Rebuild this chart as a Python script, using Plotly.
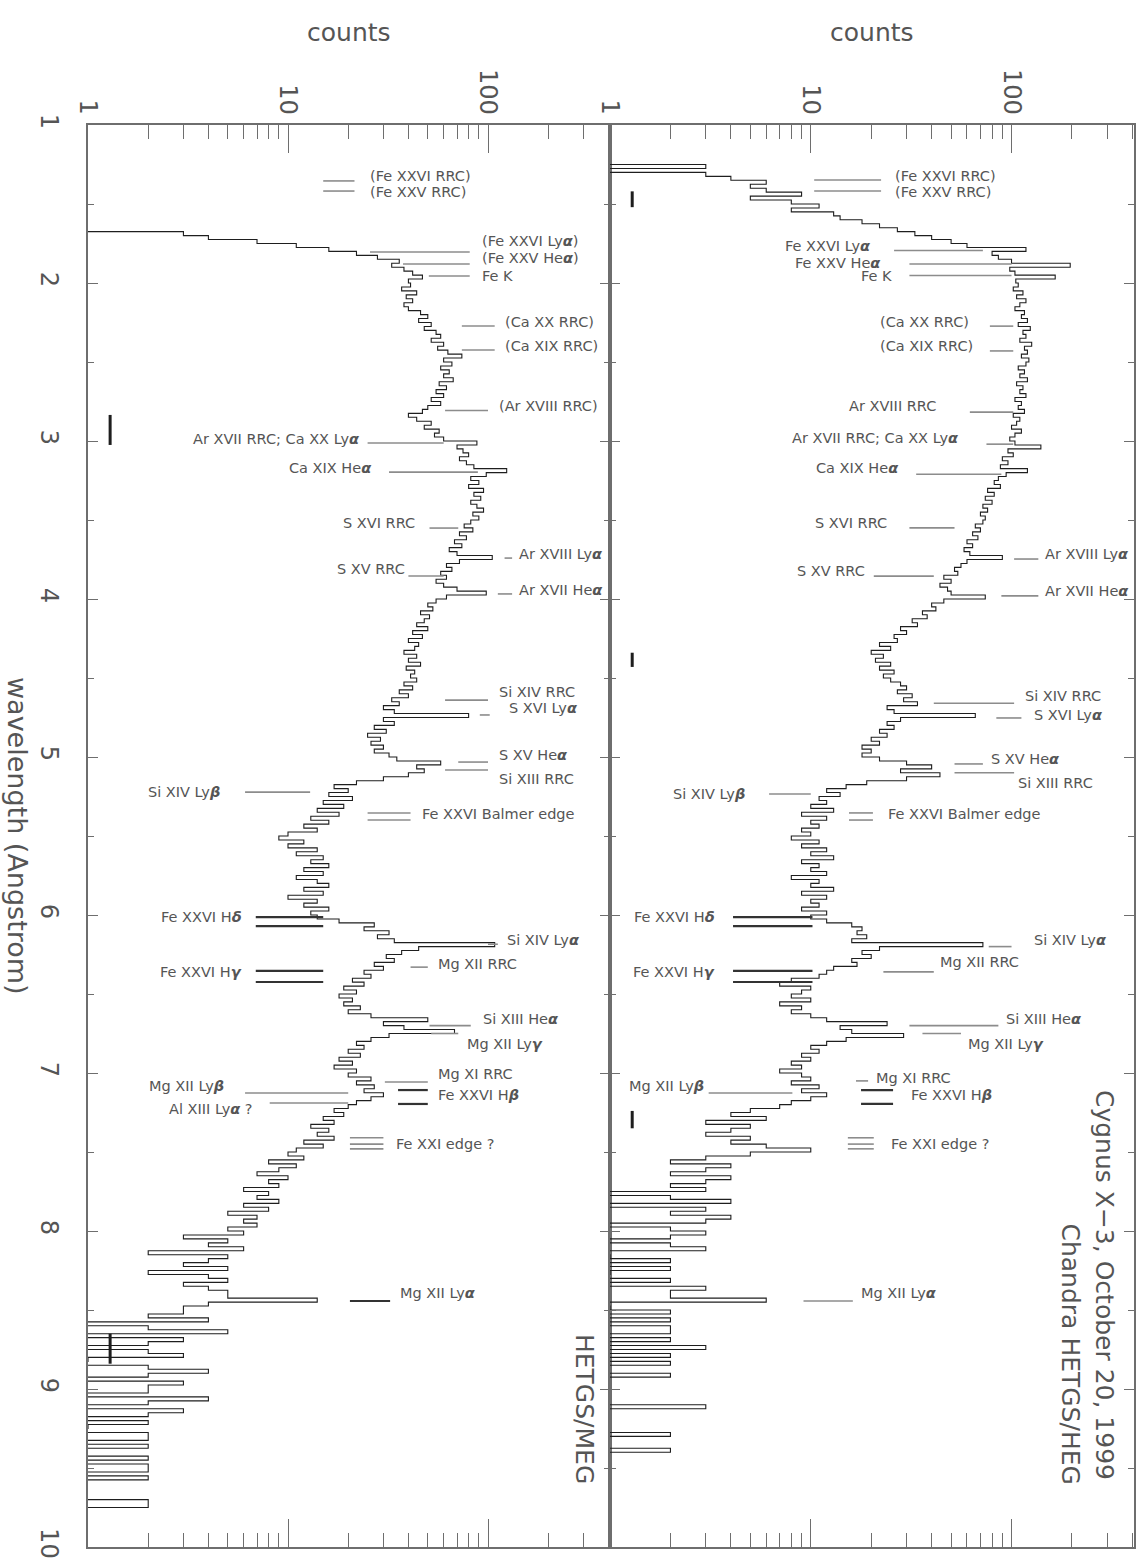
import numpy as np
import plotly.graph_objects as go

W, H = 1142, 1565
FONT = "DejaVu Sans"
TXT = "#555555"
AX = "#6e6e6e"

# ---------------- data ----------------
bin_start = 1.0      # Angstrom
bin_width = 0.025    # Angstrom

# HETGS/MEG counts per bin (rows of 0.5 Angstrom)
meg_counts = [
    0, 0, 0, 0, 0, 0, 0, 0, 0, 0, 0, 0, 0, 0, 0, 0, 0, 0, 0, 0,
    0, 0, 0, 0, 0, 0, 0, 3, 4, 7, 11, 16, 22, 28, 36, 33, 38, 42, 47, 40,
    41, 37, 44, 39, 42, 38, 40, 46, 50, 45, 52, 48, 55, 58, 52, 60, 56, 63, 74, 60,
    66, 58, 64, 60, 67, 57, 62, 55, 60, 52, 58, 50, 47, 40, 44, 52, 48, 57, 54, 60,
    88, 70, 75, 80, 72, 78, 85, 124, 98, 82, 90, 80, 95, 85, 92, 82, 88, 95, 84, 90,
    82, 76, 84, 72, 78, 68, 74, 64, 70, 105, 72, 62, 66, 58, 62, 55, 60, 70, 98, 62,
    55, 50, 53, 46, 51, 48, 44, 50, 42, 47, 40, 45, 43, 38, 44, 40, 46, 39, 43, 41,
    44, 38, 42, 36, 40, 33, 36, 30, 34, 80, 30, 34, 27, 31, 25, 29, 26, 30, 27, 32,
    35, 58, 44, 48, 40, 30, 22, 17, 20, 16, 21, 15, 19, 14, 18, 13, 16, 12, 14, 10,
    9, 12, 10, 14, 11, 15, 13, 16, 12, 15, 11, 14, 16, 12, 15, 10, 14, 12, 16, 13,
    14, 18, 27, 24, 32, 28, 34, 108, 45, 37, 31, 34, 27, 30, 24, 26, 21, 24, 19, 22,
    18, 21, 19, 23, 20, 26, 50, 30, 38, 68, 32, 26, 22, 24, 20, 23, 18, 21, 17, 22,
    20, 26, 22, 27, 24, 30, 26, 22, 20, 17, 19, 15, 17, 13, 16, 14, 17, 12, 15, 11,
    10, 12, 8, 11, 9, 7, 10, 8, 9, 6, 8, 7, 9, 6, 8, 5, 7, 6, 7, 5,
    6, 3, 5, 4, 6, 2, 5, 4, 3, 5, 2, 4, 5, 3, 4, 5, 5, 14, 4, 3,
    3, 2, 4, 0, 2, 5, 0, 3, 2, 0, 2, 3, 1, 0, 2, 4, 2, 0, 3, 2,
    2, 0, 4, 2, 0, 3, 2, 0, 2, 1, 0, 2, 2, 0, 2, 0, 0, 2, 0, 2,
    2, 0, 2, 0, 0, 0, 0, 0, 2, 2, 0, 0, 0, 0, 0, 0, 0, 0, 0, 0,
]

# HETGS/HEG counts per bin
heg_counts = [
    0, 0, 0, 0, 0, 0, 0, 0, 0, 0, 3, 0, 3, 4, 6, 5, 6, 9, 5, 8,
    11, 8, 13, 14, 18, 22, 27, 33, 40, 50, 60, 118, 80, 86, 100, 196, 98, 104, 165, 105,
    108, 102, 114, 106, 118, 110, 104, 116, 112, 120, 108, 124, 114, 118, 110, 126, 116, 120, 112, 122,
    118, 108, 116, 110, 120, 106, 114, 110, 118, 104, 112, 108, 116, 102, 110, 106, 100, 112, 104, 98,
    104, 140, 96, 102, 90, 96, 88, 120, 94, 86, 82, 88, 76, 82, 74, 80, 72, 76, 70, 74,
    72, 66, 70, 64, 68, 60, 64, 58, 62, 90, 60, 56, 52, 54, 46, 50, 44, 48, 50, 74,
    46, 40, 42, 36, 38, 32, 34, 28, 30, 26, 27, 22, 25, 20, 23, 21, 25, 22, 26, 23,
    25, 28, 30, 27, 32, 29, 34, 24, 26, 66, 28, 24, 26, 22, 24, 20, 22, 18, 20, 18,
    22, 30, 40, 28, 44, 30, 19, 15, 12, 14, 11, 12, 10, 13, 9, 12, 10, 11, 9, 10,
    8, 11, 9, 12, 10, 13, 9, 11, 10, 12, 8, 11, 10, 13, 9, 12, 10, 11, 9, 12,
    10, 12, 16, 18, 17, 19, 16, 72, 22, 18, 20, 16, 17, 13, 12, 11, 8, 7, 10, 9,
    8, 10, 7, 9, 8, 10, 12, 24, 14, 16, 29, 15, 12, 10, 11, 9, 10, 8, 9, 7,
    9, 10, 8, 11, 9, 12, 10, 8, 7, 5, 4, 6, 3, 5, 4, 3, 5, 4, 6, 10,
    5, 3, 2, 4, 3, 2, 4, 3, 2, 3, 0, 2, 4, 0, 3, 2, 4, 3, 0, 2,
    3, 2, 0, 2, 3, 0, 1, 2, 0, 2, 1, 0, 2, 0, 3, 2, 2, 6, 0, 1,
    2, 0, 2, 0, 2, 2, 0, 2, 0, 3, 0, 2, 0, 2, 0, 0, 2, 0, 0, 0,
    0, 0, 0, 0, 3, 0, 0, 0, 0, 0, 0, 2, 0, 0, 0, 2, 0, 0, 0, 0,
    0, 0, 0, 0, 0, 0, 0, 0, 0, 0, 0, 0, 0, 0, 0, 0, 0, 0, 0, 0,
]

# line identifications: names and wavelengths (Angstrom)
meg_line_names = [
    "(Fe XXVI RRC)", "(Fe XXV RRC)", "(Fe XXVI Ly<b><i>α</i></b>)", "(Fe XXV He<b><i>α</i></b>)", "Fe K",
    "(Ca XX RRC)", "(Ca XIX RRC)", "(Ar XVIII RRC)", "Ar XVII RRC; Ca XX Ly<b><i>α</i></b>",
    "Ca XIX He<b><i>α</i></b>", "S XVI RRC", "Ar XVIII Ly<b><i>α</i></b>", "S XV RRC",
    "Ar XVII He<b><i>α</i></b>", "Si XIV RRC", "S XVI Ly<b><i>α</i></b>", "S XV He<b><i>α</i></b>",
    "Si XIII RRC", "Si XIV Ly<b><i>β</i></b>", "Fe XXVI Balmer edge", "Fe XXVI H<b><i>δ</i></b>",
    "Si XIV Ly<b><i>α</i></b>", "Mg XII RRC", "Fe XXVI H<b><i>γ</i></b>", "Si XIII He<b><i>α</i></b>",
    "Mg XII Ly<b><i>γ</i></b>", "Mg XI RRC", "Mg XII Ly<b><i>β</i></b>", "Fe XXVI H<b><i>β</i></b>",
    "Al XIII Ly<b><i>α</i></b> ?", "Fe XXI edge ?", "Mg XII Ly<b><i>α</i></b>",
]
meg_line_waves = [
    [1.354], [1.418], [1.804], [1.880], [1.956],
    [2.272], [2.424], [2.807], [3.013],
    [3.197], [3.551], [3.741], [3.854],
    [3.968], [4.640], [4.734], [5.032],
    [5.082], [5.222], [5.354, 5.399], [6.013, 6.070],
    [6.185], [6.330], [6.354, 6.424], [6.700],
    [6.750], [7.057], [7.127], [7.108, 7.196],
    [7.190], [7.410, 7.450, 7.480], [8.443],
]

heg_line_names = [
    "(Fe XXVI RRC)", "(Fe XXV RRC)", "Fe XXVI Ly<b><i>α</i></b>", "Fe XXV He<b><i>α</i></b>", "Fe K",
    "(Ca XX RRC)", "(Ca XIX RRC)", "Ar XVIII RRC", "Ar XVII RRC; Ca XX Ly<b><i>α</i></b>",
    "Ca XIX He<b><i>α</i></b>", "S XVI RRC", "Ar XVIII Ly<b><i>α</i></b>", "S XV RRC",
    "Ar XVII He<b><i>α</i></b>", "Si XIV RRC", "S XVI Ly<b><i>α</i></b>", "S XV He<b><i>α</i></b>",
    "Si XIII RRC", "Si XIV Ly<b><i>β</i></b>", "Fe XXVI Balmer edge", "Fe XXVI H<b><i>δ</i></b>",
    "Si XIV Ly<b><i>α</i></b>", "Mg XII RRC", "Fe XXVI H<b><i>γ</i></b>", "Si XIII He<b><i>α</i></b>",
    "Mg XII Ly<b><i>γ</i></b>", "Mg XI RRC", "Mg XII Ly<b><i>β</i></b>", "Fe XXVI H<b><i>β</i></b>",
    "Fe XXI edge ?", "Mg XII Ly<b><i>α</i></b>",
]
heg_line_waves = [
    [1.348], [1.418], [1.794], [1.880], [1.953],
    [2.273], [2.430], [2.817], [3.020],
    [3.210], [3.550], [3.747], [3.855],
    [3.980], [4.660], [4.753], [5.044],
    [5.100], [5.234], [5.354, 5.399], [6.013, 6.070],
    [6.200], [6.360], [6.354, 6.424], [6.700],
    [6.750], [7.050], [7.127], [7.108, 7.196],
    [7.410, 7.450, 7.480], [8.443],
]

# representative error bars (wavelength span) at a count level
meg_err_spans = [(2.835, 3.025), (8.65, 8.84)]
heg_err_spans = [(1.42, 1.52), (4.34, 4.43), (7.24, 7.35)]
err_count = 1.29

# ---------------- layout of the identifications ----------------
# (segment start, segment end, label counts, label wavelength, label side, dark)
meg_line_layout = [
    (15, 21.5, 25, 1.322, "R", 0), (15, 21.5, 25, 1.422, "R", 0),
    (25.7, 81, 91, 1.735, "R", 0), (37.6, 81, 91, 1.842, "R", 0), (50.6, 81, 91, 1.956, "R", 0),
    (74, 108, 119, 2.247, "R", 0), (74, 108, 119, 2.399, "R", 0), (61, 100, 111, 2.78, "R", 0),
    (25, 60, 23.4, 2.99, "L", 0),
    (32, 89, 27, 3.17, "L", 0), (51, 71, 44, 3.52, "L", 0), (121, 132, 139, 3.715, "R", 0),
    (40, 60, 39.5, 3.81, "L", 0),
    (112, 132, 139, 3.94, "R", 0), (61, 100, 111, 4.59, "R", 0), (91, 102, 124, 4.69, "R", 0),
    (71, 100, 111, 4.99, "R", 0),
    (61, 100, 111, 5.14, "R", 0), (6.1, 12.9, 4.7, 5.222, "L", 0), (25, 41, 45.7, 5.36, "R", 0),
    (6.9, 15, 6.0, 6.013, "L", 1),
    (100, 112, 121, 6.158, "R", 0), (41, 50, 55, 6.31, "R", 0), (6.9, 15, 6.0, 6.36, "L", 1),
    (51, 82, 92, 6.66, "R", 0),
    (52, 71, 77, 6.816, "R", 0), (30.5, 50, 55, 7.006, "R", 0), (6.1, 20, 4.9, 7.08, "L", 0),
    (35.5, 50, 55, 7.14, "R", 1),
    (8.1, 20, 6.8, 7.228, "L", 0), (20.4, 30, 34, 7.45, "R", 0), (20.4, 32.4, 35.5, 8.39, "R", 1),
]
heg_line_layout = [
    (10.4, 22.4, 25.7, 1.322, "R", 0), (10.4, 22.4, 25.7, 1.422, "R", 0),
    (26, 72, 20.4, 1.765, "L", 0), (31, 100, 23, 1.873, "L", 0), (31, 100, 26, 1.958, "L", 0),
    (78, 102, 63, 2.247, "L", 0), (78, 102, 66, 2.399, "L", 0), (62, 102, 43, 2.78, "L", 0),
    (75, 102, 56, 2.98, "L", 0),
    (33.5, 89, 28, 3.17, "L", 0), (31, 52, 24.5, 3.52, "L", 0), (103, 136, 144, 3.715, "R", 0),
    (20.6, 41, 19, 3.82, "L", 0),
    (89, 136, 144, 3.95, "R", 0), (41, 103, 114, 4.615, "R", 0), (84, 112, 126, 4.735, "R", 0),
    (52, 72, 77, 5.01, "R", 0),
    (52, 103, 105, 5.165, "R", 0), (6.2, 10, 4.8, 5.234, "L", 0), (15.5, 20.4, 23.7, 5.36, "R", 0),
    (4.1, 10.2, 3.4, 6.013, "L", 1),
    (77, 100, 126, 6.158, "R", 0), (23, 41, 43, 6.30, "R", 0), (4.1, 10.2, 3.4, 6.36, "L", 1),
    (31, 86, 92, 6.66, "R", 0),
    (36, 56, 59, 6.816, "R", 0), (16.8, 19.3, 20.6, 7.03, "R", 0), (3.1, 8.1, 3.0, 7.08, "L", 0),
    (17.8, 25.7, 31, 7.14, "R", 1),
    (15.3, 20.6, 24.5, 7.45, "R", 0), (9.2, 16.2, 17.4, 8.39, "R", 0),
]

# ---------------- figure ----------------
fig = go.Figure()


def steps(counts):
    c = np.asarray(counts, float)
    lam = bin_start + bin_width * np.arange(len(c) + 1)
    c = np.append(c, c[-1])
    c = np.where(c > 0, c, 0.2)   # empty bins fall off the log axis
    return c, lam


for counts, xa, ya in [(meg_counts, "x", "y"), (heg_counts, "x2", "y2")]:
    cx, lam = steps(counts)
    fig.add_trace(go.Scatter(x=cx, y=lam, mode="lines", xaxis=xa, yaxis=ya,
                             line=dict(color="#1e1e1e", width=1.1, shape="vh"),
                             hoverinfo="skip", showlegend=False))


def add_ids(names, waves, lay, xa, ya, xref, yref):
    seg = {0: ([], []), 1: ([], [])}
    for name, wl, (c0, c1, lc, ll, side, dark) in zip(names, waves, lay):
        for w in wl:
            seg[dark][0].extend([c0, c1, None])
            seg[dark][1].extend([w, w, None])
        fig.add_annotation(x=np.log10(lc), y=ll, xref=xref, yref=yref, text=name,
                           showarrow=False, xanchor="left" if side == "R" else "right",
                           yanchor="middle", font=dict(family=FONT, size=14.5, color=TXT))
    fig.add_trace(go.Scatter(x=seg[0][0], y=seg[0][1], mode="lines", xaxis=xa, yaxis=ya,
                             line=dict(color="#8c8c8c", width=1.6), hoverinfo="skip",
                             showlegend=False))
    fig.add_trace(go.Scatter(x=seg[1][0], y=seg[1][1], mode="lines", xaxis=xa, yaxis=ya,
                             line=dict(color="#333333", width=2.2), hoverinfo="skip",
                             showlegend=False))


add_ids(meg_line_names, meg_line_waves, meg_line_layout, "x", "y", "x", "y")
add_ids(heg_line_names, heg_line_waves, heg_line_layout, "x2", "y2", "x2", "y2")

for spans, xa, ya in [(meg_err_spans, "x", "y"), (heg_err_spans, "x2", "y2")]:
    ex, ey = [], []
    for a, b in spans:
        ex.extend([err_count, err_count, None])
        ey.extend([a, b, None])
    fig.add_trace(go.Scatter(x=ex, y=ey, mode="lines", xaxis=xa, yaxis=ya,
                             line=dict(color="#1e1e1e", width=3), hoverinfo="skip",
                             showlegend=False))

minor_x = [2, 3, 4, 5, 6, 7, 8, 9, 20, 30, 40, 50, 60, 70, 80, 90, 200, 300, 400]
xcommon = dict(type="log", range=[0, 2.61], side="top", showline=True, linecolor=AX,
               linewidth=1.5, mirror="allticks", ticks="inside", ticklen=28, tickwidth=1.3,
               tickcolor=AX, tickvals=[1, 10, 100], ticktext=["1", "10", "100"],
               tickangle=90, tickfont=dict(family=FONT, size=24, color=TXT),
               minor=dict(ticks="inside", ticklen=14, tickwidth=1.2, tickcolor=AX,
                          tickvals=minor_x, showgrid=False),
               showgrid=False, zeroline=False, automargin=False)
ydom = [1 - 1547 / H, 1 - 125 / H]
ycommon = dict(range=[10, 1], domain=ydom, showline=True, linecolor=AX, linewidth=1.5,
               mirror="allticks", ticks="inside", ticklen=10, tickwidth=1.3, tickcolor=AX,
               tickvals=list(range(1, 11)), tickangle=90,
               tickfont=dict(family=FONT, size=24, color=TXT),
               minor=dict(ticks="inside", ticklen=6, tickwidth=1.2, tickcolor=AX, dtick=0.5,
                          tick0=1, showgrid=False),
               showgrid=False, zeroline=False, automargin=False)

fig.update_layout(
    width=W, height=H, margin=dict(l=0, r=0, t=0, b=0, autoexpand=False),
    paper_bgcolor="white", plot_bgcolor="white", showlegend=False,
    xaxis=dict(xcommon, domain=[88 / W, 610 / W], anchor="y"),
    xaxis2=dict(xcommon, domain=[610 / W, 1134 / W], anchor="y2"),
    yaxis=dict(ycommon, anchor="x", ticklabelstandoff=16),
    yaxis2=dict(ycommon, anchor="x2", showticklabels=False),
)

big = dict(family=FONT, size=25, color=TXT)
fig.add_annotation(x=349 / W, y=1 - 32 / H, xref="paper", yref="paper", text="counts",
                   showarrow=False, xanchor="center", yanchor="middle", font=big)
fig.add_annotation(x=872 / W, y=1 - 32 / H, xref="paper", yref="paper", text="counts",
                   showarrow=False, xanchor="center", yanchor="middle", font=big)
fig.add_annotation(x=18 / W, y=1 - 836 / H, xref="paper", yref="paper",
                   text="wavelength (Angstrom)", textangle=90, showarrow=False,
                   xanchor="center", yanchor="middle", font=dict(family=FONT, size=27, color=TXT))
fig.add_annotation(x=1105 / W, y=1 - 1482 / H, xref="paper", yref="paper",
                   text="Cygnus X−3, October 20, 1999", textangle=90, showarrow=False,
                   xanchor="center", yanchor="bottom", font=big)
fig.add_annotation(x=1070 / W, y=1 - 1486 / H, xref="paper", yref="paper",
                   text="Chandra HETGS/HEG", textangle=90, showarrow=False,
                   xanchor="center", yanchor="bottom", font=big)
fig.add_annotation(x=585 / W, y=1 - 1486 / H, xref="paper", yref="paper",
                   text="HETGS/MEG", textangle=90, showarrow=False,
                   xanchor="center", yanchor="bottom", font=big)

fig.write_html("out.html", config={"displayModeBar": False},
               post_script="document.body.style.margin='0px';document.body.style.overflow='hidden';")
